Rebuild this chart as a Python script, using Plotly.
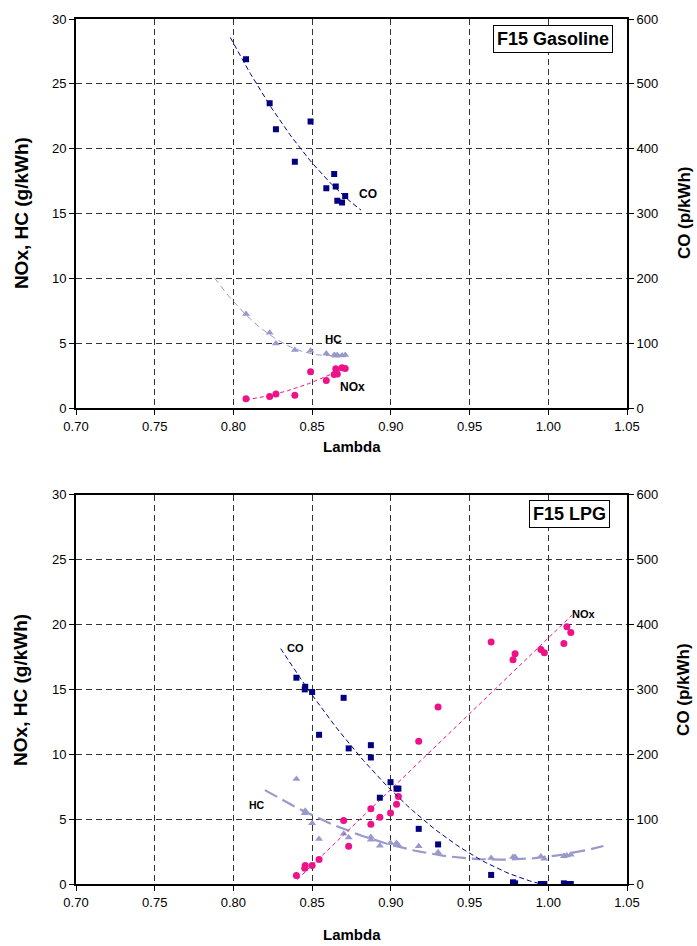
import numpy as np
import plotly.graph_objects as go

# ---------------- data: F15 Gasoline ----------------
gas_lambda = [0.808, 0.823, 0.827, 0.839, 0.849, 0.859, 0.864, 0.865, 0.866, 0.869, 0.871]
gas_co = [538, 470, 430, 380, 442, 339, 361, 342, 320, 317, 327]          # p/kWh (right axis)
gas_hc = [7.27, 5.81, 4.99, 4.48, 4.43, 4.22, 4.10, 4.04, 4.10, 4.07, 4.10]  # g/kWh
gas_nox = [0.74, 0.90, 1.10, 1.00, 2.82, 2.13, 2.60, 3.05, 2.64, 3.12, 3.07]

# ---------------- data: F15 LPG ----------------
lpg_lambda = [0.840, 0.8456, 0.8453, 0.850, 0.8544, 0.870, 0.8732, 0.8873, 0.8873, 0.893,
              0.8998, 0.9036, 0.9048, 0.9177, 0.930, 0.9637, 0.9776, 0.9789, 0.9953,
              0.9975, 1.0099, 1.0118, 1.0143]
lpg_co = [318, 304, 300, 296, 230, 287, 209, 214, 195, 133, 157, 147, 147, 85, 61,
          14, 2.6, 1.0, 0, 0, 1.0, 0, 0]
lpg_hc = [8.09, 5.65, 5.45, 4.69, 3.47, 3.87, 3.59, 3.62, 3.41, 2.95, 3.16, 3.16, 2.98,
          2.90, 2.44, 2.01, 2.09, 2.09, 2.11, 1.94, 2.14, 2.20, 2.25]
lpg_nox = [0.66, 1.43, 1.22, 1.43, 1.89, 4.89, 2.90, 5.80, 4.61, 5.14, 5.47, 6.14, 6.75,
           11.0, 13.64, 18.66, 17.28, 17.74, 18.07, 17.82, 18.53, 19.82, 19.39]

x_ticks = [0.70, 0.75, 0.80, 0.85, 0.90, 0.95, 1.00, 1.05]

# trend-line extents (lambda)
gas_co_range, gas_hc_range, gas_nox_range = (0.798, 0.881), (0.788, 0.872), (0.808, 0.868)
lpg_co_range, lpg_hc_range, lpg_nox_range = (0.830, 1.013), (0.820, 1.035), (0.8405, 1.015)

NAVY = "#000080"
LAV = "#9999CC"
PINK = "#EE1289"
FONT = "Liberation Sans"


def trend(x, y, deg, rng):
    c = np.polyfit(x, y, deg)
    xs = np.linspace(rng[0], rng[1], 60)
    return xs, np.polyval(c, xs)


fig = go.Figure()


def add_panel(lam, co, hc, nox, xa, ya, ya_co, ranges, degs, hc_line):
    # CO
    xs, ys = trend(lam, co, degs[0], ranges[0])
    fig.add_trace(go.Scatter(x=xs, y=ys, mode="lines", xaxis=xa, yaxis=ya_co,
                             line=dict(color=NAVY, width=1, dash="5px,3px"), showlegend=False,
                             hoverinfo="skip"))
    fig.add_trace(go.Scatter(x=lam, y=co, mode="markers", xaxis=xa, yaxis=ya_co, name="CO",
                             marker=dict(symbol="square", size=6, color=NAVY), showlegend=False))
    # HC
    xs, ys = trend(lam, hc, degs[1], ranges[1])
    fig.add_trace(go.Scatter(x=xs, y=ys, mode="lines", xaxis=xa, yaxis=ya,
                             line=hc_line, showlegend=False, hoverinfo="skip"))
    fig.add_trace(go.Scatter(x=lam, y=hc, mode="markers", xaxis=xa, yaxis=ya, name="HC",
                             marker=dict(symbol="triangle-up", size=7, color=LAV), showlegend=False))
    # NOx
    xs, ys = trend(lam, nox, degs[2], ranges[2])
    fig.add_trace(go.Scatter(x=xs, y=ys, mode="lines", xaxis=xa, yaxis=ya,
                             line=dict(color=PINK, width=1, dash="4px,3px"), showlegend=False,
                             hoverinfo="skip"))
    fig.add_trace(go.Scatter(x=lam, y=nox, mode="markers", xaxis=xa, yaxis=ya, name="NOx",
                             marker=dict(symbol="circle", size=7, color=PINK), showlegend=False))


add_panel(gas_lambda, gas_co, gas_hc, gas_nox, "x", "y", "y2",
          (gas_co_range, gas_hc_range, gas_nox_range), (2, 2, 2),
          dict(color=LAV, width=1, dash="6px,4px"))
add_panel(lpg_lambda, lpg_co, lpg_hc, lpg_nox, "x2", "y3", "y4",
          (lpg_co_range, lpg_hc_range, lpg_nox_range), (2, 2, 1),
          dict(color=LAV, width=2.2, dash="14px,6px"))

tickfont = dict(family=FONT, size=13, color="black")
grid = dict(showgrid=True, gridcolor="#333333", gridwidth=1, griddash="6px,4px")

xcommon = dict(range=[0.70, 1.05], tickvals=x_ticks, ticktext=[f"{v:.2f}" for v in x_ticks],
               showline=True, linecolor="black", linewidth=2, mirror=True,
               ticks="outside", ticklen=5, tickcolor="black", tickfont=tickfont,
               zeroline=False, **grid)
yleft = dict(range=[0, 30], tickvals=[0, 5, 10, 15, 20, 25, 30], showline=True,
             linecolor="black", linewidth=2, mirror=True, ticks="outside", ticklen=5,
             tickcolor="black", tickfont=tickfont, zeroline=False, **grid)
yright = dict(range=[0, 600], tickvals=[0, 100, 200, 300, 400, 500, 600], side="right",
              showline=True, linecolor="black", linewidth=2, ticks="outside", ticklen=5,
              tickcolor="black", tickfont=tickfont, showgrid=False, zeroline=False)

fig.update_layout(
    width=697, height=946,
    margin=dict(l=76, r=70, t=15, b=62),
    paper_bgcolor="white", plot_bgcolor="white",
    font=dict(family=FONT, color="black"),
    xaxis=dict(domain=[0, 1], anchor="y", **xcommon),
    yaxis=dict(domain=[0.55, 1], anchor="x", **yleft),
    yaxis2=dict(overlaying="y", anchor="x", **yright),
    xaxis2=dict(domain=[0, 1], anchor="y3", **xcommon),
    yaxis3=dict(domain=[0, 0.45], anchor="x2", **yleft),
    yaxis4=dict(overlaying="y3", anchor="x2", **yright),
    showlegend=False,
)


def ann(text, x, y, xref, yref, size, **kw):
    fig.add_annotation(text=f"<b>{text}</b>", x=x, y=y, xref=xref, yref=yref,
                       xanchor="center", yanchor="middle",
                       showarrow=False, font=dict(family=FONT, size=size, color="black"), **kw)


# series labels
ann("CO", 0.8857, 16.48, "x", "y", 12)
ann("HC", 0.8633, 5.33, "x", "y", 11.5)
ann("NOx", 0.8754, 1.6, "x", "y", 12)
ann("CO", 0.8396, 18.17, "x2", "y3", 11)
ann("HC", 0.815, 6.06, "x2", "y3", 10.5)
ann("NOx", 1.023, 20.84, "x2", "y3", 11)

# panel titles
ann("F15 Gasoline", 0.865, 0.977, "paper", "paper", 18, bordercolor="black", borderwidth=1,
    borderpad=3, bgcolor="white")
ann("F15 LPG", 0.895, 0.428, "paper", "paper", 18, bordercolor="black", borderwidth=1,
    borderpad=3, bgcolor="white")

# axis titles (pixel -> paper conversion: plot area x 76..627, y 15..884)
def px(x):
    return (x - 76) / 551


def py(y):
    return (884 - y) / 869


for yc in (210, 689):
    ann("NOx, HC (g/kWh)", px(21), py(yc), "paper", "paper", 19, textangle=-90)
    ann("CO (p/kWh)", px(684), py(yc), "paper", "paper", 17, textangle=-90)
ann("Lambda", px(352), py(444), "paper", "paper", 15)
ann("Lambda", px(352), py(935), "paper", "paper", 15)

fig.write_html("out.html")
